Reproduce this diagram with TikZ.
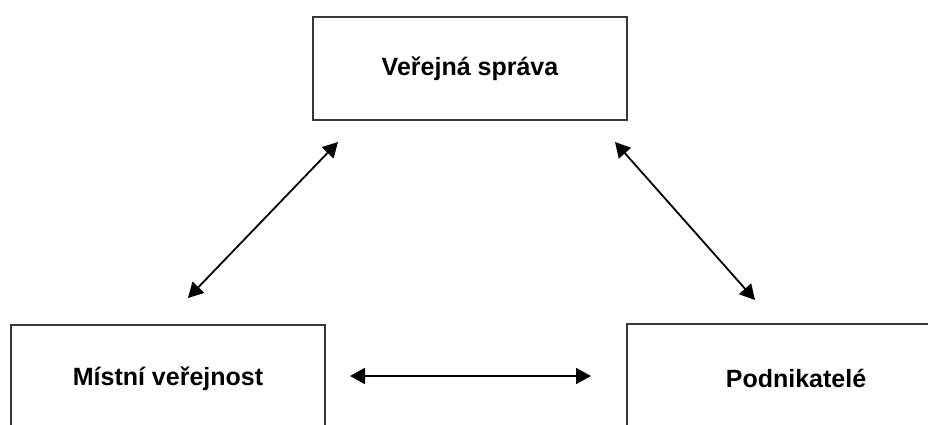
\documentclass[tikz,border=0pt]{standalone}
\usepackage{fontspec}
\setmainfont{Liberation Sans}
\usetikzlibrary{arrows.meta}
\definecolor{edge}{HTML}{383838}
\tikzset{
  actor/.style={draw=edge, line width=2.4pt, fill=white, inner sep=0pt,
    font=\bfseries\fontsize{25}{30}\selectfont, text=black},
  link/.style={line width=1.8pt, black,
    {Triangle[length=15pt,width=16pt]}-{Triangle[length=15pt,width=16pt]}}
}
\begin{document}
\begin{tikzpicture}[x=1pt,y=-1pt]
  \useasboundingbox (0,0) rectangle (928,424);
  \clip (0,0) rectangle (928,424);
  \fill[white] (0,0) rectangle (928,424);

  % the three parties
  \node[actor, minimum width=314pt, minimum height=103pt] (sprava) at (470,68.5) {Veřejná správa};
  \node[actor, minimum width=314pt, minimum height=108pt] (verejnost) at (168,379) {Místní veřejnost};
  \node[actor, minimum width=338pt, minimum height=108pt] (podnik) at (796,378) {Podnikatelé};

  % arrow end points
  \coordinate (a1) at (338,142);
  \coordinate (a2) at (188,298);
  \coordinate (b1) at (615,142);
  \coordinate (b2) at (755,300);
  \coordinate (c1) at (350,376);
  \coordinate (c2) at (591,376);

  % relations between the parties
  \draw[link] (a1) -- (a2);
  \draw[link] (b1) -- (b2);
  \draw[link] (c1) -- (c2);
\end{tikzpicture}
\end{document}
